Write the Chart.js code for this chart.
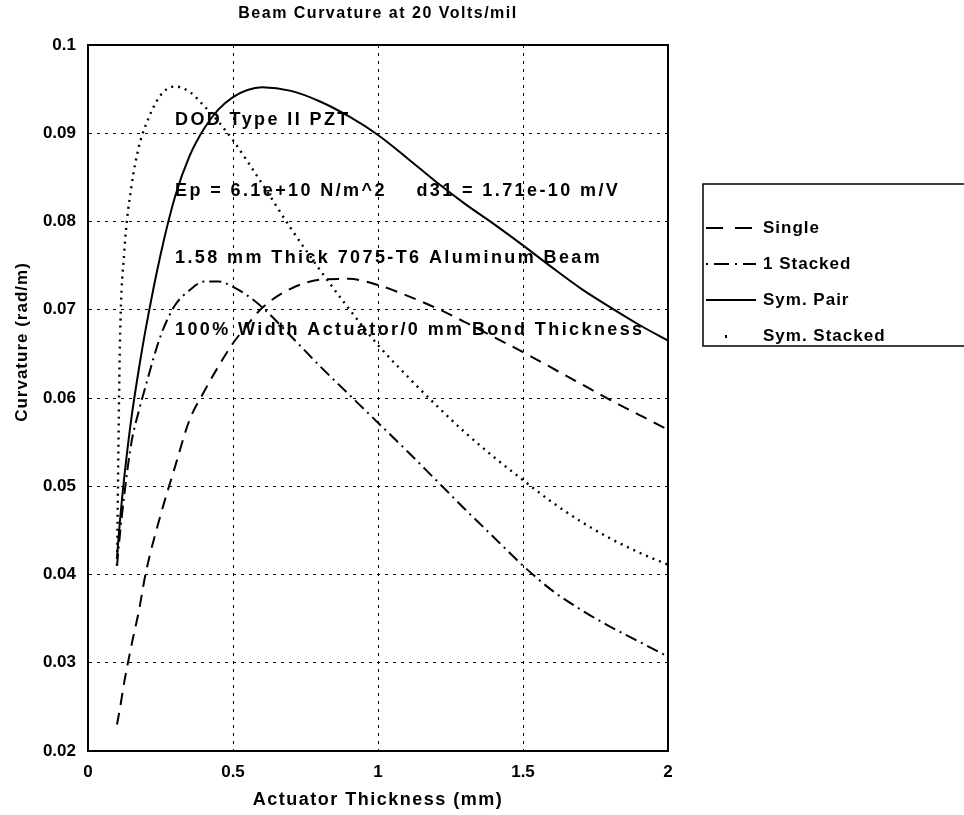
<!DOCTYPE html>
<html>
<head>
<meta charset="utf-8">
<title>Beam Curvature at 20 Volts/mil</title>
<script src="https://cdn.jsdelivr.net/npm/chart.js@4.4.1/dist/chart.umd.min.js"></script>
<style>
  html, body { margin: 0; padding: 0; background: #fff; }
  #wrap { width: 964px; height: 815px; }
</style>
</head>
<body>
<div id="wrap"><canvas id="beamChart" width="964" height="815"></canvas></div>
<script>
/* ============================================================
   Beam curvature vs actuator thickness — line chart
   ============================================================ */

/* ─── Data ─── */
const thickness  = [0.1, 0.11, 0.125, 0.15, 0.175, 0.2, 0.25, 0.3, 0.35, 0.4, 0.45, 0.5, 0.55, 0.6,
                    0.7, 0.8, 0.9, 1.0, 1.1, 1.2, 1.3, 1.4, 1.5, 1.6, 1.7, 1.8, 1.9, 2.0];

const single     = [0.0230, 0.0248, 0.0278, 0.0320, 0.0358, 0.0403, 0.0467, 0.0522, 0.0575, 0.0607,
                    0.0636, 0.0662, 0.0683, 0.0702, 0.0724, 0.0734, 0.0735, 0.0728, 0.0716, 0.0702,
                    0.0686, 0.0669, 0.0652, 0.0634, 0.0616, 0.0598, 0.0581, 0.0564];

const stacked1   = [0.0410, 0.0445, 0.0490, 0.0550, 0.0585, 0.0615, 0.0670, 0.0705, 0.0722, 0.0732,
                    0.0732, 0.0726, 0.0716, 0.0703, 0.0670, 0.0636, 0.0604, 0.0572, 0.0540, 0.0507,
                    0.0474, 0.0442, 0.0410, 0.0382, 0.0360, 0.0341, 0.0324, 0.0307];

const symPair    = [0.0420, 0.0460, 0.0510, 0.0578, 0.0632, 0.0680, 0.0762, 0.0828, 0.0874, 0.0905,
                    0.0927, 0.0941, 0.0949, 0.0952, 0.0948, 0.0936, 0.0919, 0.0898, 0.0872, 0.0845,
                    0.0820, 0.0797, 0.0773, 0.0748, 0.0724, 0.0703, 0.0683, 0.0665];

const symStacked = [0.0410, 0.0660, 0.0765, 0.0840, 0.0884, 0.0910, 0.0943, 0.0953, 0.0947, 0.0931,
                    0.0913, 0.0892, 0.0868, 0.0843, 0.0792, 0.0745, 0.0701, 0.0660, 0.0625, 0.0592,
                    0.0561, 0.0533, 0.0507, 0.0482, 0.0460, 0.0441, 0.0425, 0.0411];

const seriesNames = ["Single", "1 Stacked", "Sym. Pair", "Sym. Stacked"];

const xTicks      = [0, 0.5, 1, 1.5, 2];
const xTickLabels = ["0", "0.5", "1", "1.5", "2"];
const yTicks      = [0.02, 0.03, 0.04, 0.05, 0.06, 0.07, 0.08, 0.09, 0.1];
const yTickLabels = ["0.02", "0.03", "0.04", "0.05", "0.06", "0.07", "0.08", "0.09", "0.1"];

const chartTitle = "Beam Curvature at 20 Volts/mil";
const xTitle     = "Actuator Thickness (mm)";
const yTitle     = "Curvature (rad/m)";
const notes = [
  "DOD Type II PZT",
  "Ep = 6.1e+10 N/m^2    d31 = 1.71e-10 m/V",
  "1.58 mm Thick 7075-T6 Aluminum Beam",
  "100% Width Actuator/0 mm Bond Thickness",
];

const FONT = "'Liberation Sans', Arial, Helvetica, sans-serif";

function toPoints(ys) {
  return thickness.map((x, i) => ({ x, y: ys[i] }));
}

/* ─── Frame, titles, notes, legend ─── */
const decor = {
  id: "decor",
  afterDraw(chart) {
    const { ctx, chartArea: a, scales: { x, y } } = chart;
    ctx.save();

    /* box round the plot */
    ctx.setLineDash([]);
    ctx.strokeStyle = "#000";
    ctx.lineWidth = 2;
    ctx.strokeRect(a.left, a.top, a.right - a.left, a.bottom - a.top);

    ctx.fillStyle = "#000";
    ctx.textBaseline = "middle";

    /* title + axis titles */
    ctx.textAlign = "center";
    ctx.letterSpacing = "1.5px";
    ctx.font = "bold 16px " + FONT;
    ctx.fillText(chartTitle, (a.left + a.right) / 2, 14);
    ctx.font = "bold 18px " + FONT;
    ctx.fillText(xTitle, (a.left + a.right) / 2, 800);

    ctx.save();
    ctx.translate(22, 342);
    ctx.rotate(-Math.PI / 2);
    ctx.letterSpacing = "1px";
    ctx.font = "bold 17px " + FONT;
    ctx.fillText(yTitle, 0, 0);
    ctx.restore();

    /* notes inside the plot */
    ctx.textAlign = "left";
    ctx.letterSpacing = "2.4px";
    ctx.font = "bold 18px " + FONT;
    const noteY = [0.0915, 0.0834, 0.0759, 0.0677];
    notes.forEach((t, i) => ctx.fillText(t, x.getPixelForValue(0.3), y.getPixelForValue(noteY[i])));

    /* legend */
    const lx = 703, ly = 184, rowY = [228, 264, 300, 336];
    const sampleDash = [[17, 12], [2, 6, 15, 6], [], null];
    ctx.lineWidth = 1.5;
    ctx.strokeRect(lx, ly, 300, 162);
    ctx.letterSpacing = "1px";
    ctx.font = "bold 17px " + FONT;
    chart.data.datasets.forEach((ds, i) => {
      const yy = rowY[i];
      if (!sampleDash[i]) {
        ctx.fillRect(lx + 22, yy - 1, 2, 3);
      } else {
        ctx.save();
        ctx.lineWidth = ds.borderWidth;
        ctx.setLineDash(sampleDash[i]);
        ctx.beginPath();
        ctx.moveTo(lx + 3, yy);
        ctx.lineTo(lx + 53, yy);
        ctx.stroke();
        ctx.restore();
      }
      ctx.fillText(ds.label, lx + 60, yy);
    });

    ctx.restore();
  },
};

/* ─── Chart ─── */
function initBeamChart() {
  const canvas = document.getElementById("beamChart");
  if (!canvas || !window.Chart) return;

  const line = (label, ys, dash, width) => ({
    label,
    data: toPoints(ys),
    borderColor: "#000",
    backgroundColor: "#000",
    borderWidth: width,
    borderDash: dash,
    pointRadius: 0,
    fill: false,
    cubicInterpolationMode: "monotone",
  });

  new Chart(canvas, {
    type: "line",
    data: {
      datasets: [
        line(seriesNames[0], single,     [12, 8],        2),
        line(seriesNames[1], stacked1,   [12, 5, 2, 5],  2),
        line(seriesNames[2], symPair,    [],             2),
        line(seriesNames[3], symStacked, [2, 5],         2.4),
      ],
    },
    options: {
      responsive: false,
      animation: false,
      layout: { padding: { top: 45, right: 296, bottom: 0, left: 0 } },
      plugins: { legend: { display: false }, title: { display: false }, tooltip: { enabled: false } },
      scales: {
        x: {
          type: "linear", min: 0, max: 2,
          afterBuildTicks: s => { s.ticks = xTicks.map(v => ({ value: v })); },
          afterFit: s => { s.height = 64; },
          ticks: {
            callback: (v, i) => xTickLabels[i],
            color: "#000", padding: 11, maxRotation: 0,
            font: { family: FONT, size: 17, weight: "bold" },
          },
          grid: { color: "#000", lineWidth: 1, drawTicks: false },
          border: { display: true, color: "#000", width: 2, dash: [3, 5] },
        },
        y: {
          type: "linear", min: 0.02, max: 0.1,
          afterBuildTicks: s => { s.ticks = yTicks.map(v => ({ value: v })); },
          afterFit: s => { s.width = 88; },
          ticks: {
            callback: (v, i) => yTickLabels[i],
            color: "#000", padding: 12,
            font: { family: FONT, size: 17, weight: "bold" },
          },
          grid: { color: "#000", lineWidth: 1, drawTicks: false },
          border: { display: true, color: "#000", width: 2, dash: [3, 5] },
        },
      },
    },
    plugins: [decor],
  });
}

/* ─── Boot ─── */
document.addEventListener("DOMContentLoaded", initBeamChart);
</script>
</body>
</html>
